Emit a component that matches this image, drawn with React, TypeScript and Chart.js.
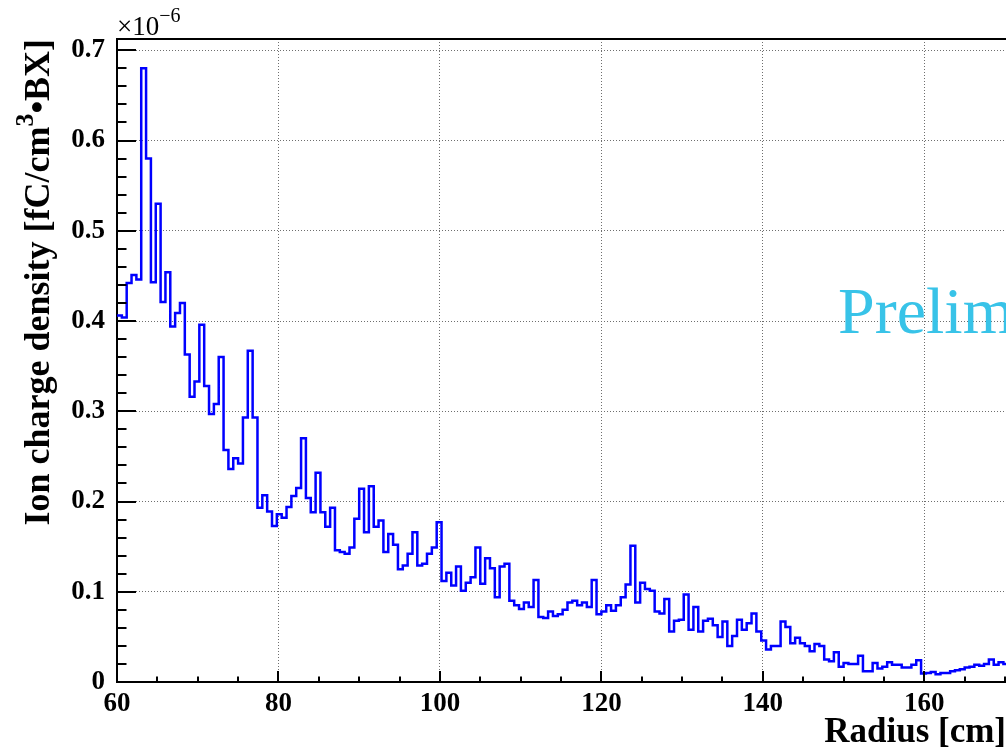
import React, { useEffect, useRef } from 'react';
import { Chart, registerables } from 'chart.js';

Chart.register(...registerables);

// Histogram: ion charge density vs radius, bins of 0.6 cm starting at 60 cm (values ×10^-6)
const BIN_START = 60;
const BIN_WIDTH = 0.6;
const densityValues = [
  0.406, 0.404, 0.442, 0.451, 0.446, 0.680, 0.580, 0.443, 0.530, 0.421,
  0.454, 0.394, 0.409, 0.420, 0.363, 0.316, 0.333, 0.396, 0.328, 0.297,
  0.308, 0.360, 0.257, 0.236, 0.248, 0.242, 0.293, 0.367, 0.293, 0.193,
  0.207, 0.189, 0.173, 0.186, 0.182, 0.194, 0.206, 0.215, 0.270, 0.204,
  0.188, 0.232, 0.188, 0.172, 0.193, 0.146, 0.144, 0.142, 0.149, 0.181,
  0.214, 0.166, 0.217, 0.172, 0.179, 0.144, 0.164, 0.152, 0.125, 0.129,
  0.142, 0.166, 0.129, 0.131, 0.142, 0.149, 0.177, 0.112, 0.121, 0.107,
  0.128, 0.101, 0.110, 0.116, 0.149, 0.109, 0.137, 0.126, 0.094, 0.128,
  0.131, 0.090, 0.085, 0.081, 0.088, 0.083, 0.113, 0.072, 0.071, 0.078,
  0.073, 0.075, 0.080, 0.088, 0.090, 0.085, 0.088, 0.083, 0.113, 0.075,
  0.078, 0.085, 0.079, 0.085, 0.094, 0.108, 0.151, 0.088, 0.110, 0.103,
  0.101, 0.078, 0.076, 0.092, 0.056, 0.068, 0.069, 0.097, 0.058, 0.083,
  0.056, 0.068, 0.070, 0.063, 0.050, 0.067, 0.040, 0.051, 0.069, 0.058,
  0.065, 0.076, 0.056, 0.046, 0.036, 0.040, 0.040, 0.067, 0.061, 0.043,
  0.049, 0.043, 0.040, 0.034, 0.042, 0.040, 0.025, 0.023, 0.033, 0.017,
  0.021, 0.020, 0.020, 0.029, 0.012, 0.012, 0.021, 0.015, 0.017, 0.022,
  0.019, 0.019, 0.016, 0.016, 0.019, 0.024, 0.0095, 0.010, 0.011, 0.0085,
  0.010, 0.010, 0.012, 0.013, 0.014, 0.016, 0.017, 0.019, 0.018, 0.020,
  0.025, 0.019, 0.022, 0.020,
];

const xMajorTicks = [60, 80, 100, 120, 140, 160];
const xMinorTicks = [65, 70, 75, 85, 90, 95, 105, 110, 115, 125, 130, 135, 145, 150, 155, 165, 170];
const yMajorTicks = [0, 0.1, 0.2, 0.3, 0.4, 0.5, 0.6, 0.7];
const yTickLabels = ['0', '0.1', '0.2', '0.3', '0.4', '0.5', '0.6', '0.7'];
const yMinorTicks = [
  0.02, 0.04, 0.06, 0.08, 0.12, 0.14, 0.16, 0.18, 0.22, 0.24, 0.26, 0.28,
  0.32, 0.34, 0.36, 0.38, 0.42, 0.44, 0.46, 0.48, 0.52, 0.54, 0.56, 0.58,
  0.62, 0.64, 0.66, 0.68,
];

const X_MIN = 60;
const X_MAX = 170.12;
const Y_MIN = 0;
const Y_MAX = 0.7125;

const X_TITLE = 'Radius [cm]';
// y title pieces: [text, isSuperscript]
const Y_TITLE_PARTS: [string, boolean][] = [
  ['Ion charge density [fC/cm', false],
  ['3', true],
  ['•BX]', false],
];
const WATERMARK = 'Preliminary';

const SERIF = "'Liberation Serif', 'Times New Roman', serif";
const X_TITLE_SIZE = 35;
const Y_TITLE_SIZE = 36;

const framePlugin = {
  id: 'rootFrame',
  afterDraw(chart: any) {
    const { ctx, chartArea: a, scales } = chart;
    const x = scales.x;
    const y = scales.y;
    ctx.save();
    ctx.strokeStyle = '#000';
    ctx.lineWidth = 2;
    ctx.setLineDash([]);
    ctx.beginPath();
    // top frame
    ctx.moveTo(a.left - 1, a.top);
    ctx.lineTo(a.right, a.top);
    // y ticks (inward)
    yMajorTicks.forEach((v) => {
      const p = Math.round(y.getPixelForValue(v));
      ctx.moveTo(a.left, p);
      ctx.lineTo(a.left + 19, p);
    });
    yMinorTicks.forEach((v) => {
      const p = Math.round(y.getPixelForValue(v));
      ctx.moveTo(a.left, p);
      ctx.lineTo(a.left + 9.5, p);
    });
    // x ticks (inward)
    xMajorTicks.forEach((v) => {
      const p = Math.round(x.getPixelForValue(v));
      ctx.moveTo(p, a.bottom);
      ctx.lineTo(p, a.bottom - 11);
    });
    xMinorTicks.forEach((v) => {
      const p = Math.round(x.getPixelForValue(v));
      ctx.moveTo(p, a.bottom);
      ctx.lineTo(p, a.bottom - 5.5);
    });
    ctx.stroke();

    // exponent label
    ctx.fillStyle = '#000';
    ctx.textBaseline = 'alphabetic';
    ctx.textAlign = 'left';
    ctx.font = `27px ${SERIF}`;
    ctx.fillText('×10', a.left, 35);
    const w = ctx.measureText('×10').width;
    ctx.font = `20px ${SERIF}`;
    ctx.fillText('−6', a.left + w, 22);

    // y-axis title (rotated, ending at the top of the frame)
    const mainFont = `bold ${Y_TITLE_SIZE}px ${SERIF}`;
    const supSize = Math.round(Y_TITLE_SIZE * 0.72);
    const supFont = `bold ${supSize}px ${SERIF}`;
    let total = 0;
    const widths = Y_TITLE_PARTS.map(([t, sup]) => {
      ctx.font = sup ? supFont : mainFont;
      const ww = ctx.measureText(t).width;
      total += ww;
      return ww;
    });
    ctx.save();
    ctx.translate(36.4, a.top);
    ctx.rotate(-Math.PI / 2);
    const baseline = Y_TITLE_SIZE * 0.3375;
    let cx = -total;
    Y_TITLE_PARTS.forEach(([t, sup], i) => {
      ctx.font = sup ? supFont : mainFont;
      ctx.fillText(t, cx, sup ? baseline - Y_TITLE_SIZE * 0.42 : baseline);
      cx += widths[i];
    });
    ctx.restore();

    // watermark
    ctx.fillStyle = 'rgb(56,195,232)';
    ctx.font = `66px ${SERIF}`;
    ctx.fillText(WATERMARK, 838, 333);
    ctx.restore();
  },
};

export default function App() {
  const canvasRef = useRef<HTMLCanvasElement | null>(null);

  useEffect(() => {
    if (!canvasRef.current) return;
    const points = densityValues.map((v, k) => ({ x: BIN_START + BIN_WIDTH * k, y: v }));
    points.push({
      x: BIN_START + BIN_WIDTH * densityValues.length,
      y: densityValues[densityValues.length - 1],
    });

    const chart = new Chart(canvasRef.current, {
      type: 'line',
      data: {
        datasets: [
          {
            data: points,
            borderColor: '#0000ff',
            borderWidth: 2.5,
            pointRadius: 0,
            stepped: 'before',
            fill: false,
          },
        ],
      },
      options: {
        animation: false,
        responsive: false,
        devicePixelRatio: 1,
        layout: { padding: { top: 39, left: 0, right: 0, bottom: 0 } },
        plugins: {
          legend: { display: false },
          tooltip: { enabled: false },
        },
        scales: {
          x: {
            type: 'linear',
            min: X_MIN,
            max: X_MAX,
            afterBuildTicks: (scale: any) => {
              scale.ticks = xMajorTicks.map((v) => ({ value: v }));
            },
            afterFit: (scale: any) => {
              scale.height = 73;
            },
            ticks: {
              color: '#000',
              padding: 6,
              maxRotation: 0,
              autoSkip: false,
              font: { family: SERIF, size: 27, weight: 'bold' },
              callback: (v: any) => String(v),
            },
            grid: {
              color: '#6e6e6e',
              lineWidth: 1,
              drawTicks: false,
            },
            border: { display: true, color: '#000', width: 2, dash: [1, 2] },
            title: {
              display: true,
              text: X_TITLE,
              align: 'end',
              color: '#000',
              font: { family: SERIF, size: X_TITLE_SIZE, weight: 'bold' },
              padding: { top: 0, bottom: 1 },
            },
          },
          y: {
            type: 'linear',
            min: Y_MIN,
            max: Y_MAX,
            afterBuildTicks: (scale: any) => {
              scale.ticks = yMajorTicks.map((v) => ({ value: v }));
            },
            afterFit: (scale: any) => {
              scale.width = 117;
            },
            ticks: {
              color: '#000',
              padding: 12,
              autoSkip: false,
              font: { family: SERIF, size: 27, weight: 'bold' },
              callback: (v: any) => {
                const i = yMajorTicks.findIndex((t) => Math.abs(t - v) < 1e-9);
                return i >= 0 ? yTickLabels[i] : '';
              },
            },
            grid: {
              color: '#6e6e6e',
              lineWidth: 1,
              drawTicks: false,
            },
            border: { display: true, color: '#000', width: 2, dash: [1, 2] },
            title: { display: false },
          },
        },
      } as any,
      plugins: [framePlugin],
    });

    return () => chart.destroy();
  }, []);

  return (
    <div style={{ position: 'absolute', left: 0, top: 0, width: 1006, height: 755, background: '#fff' }}>
      <canvas ref={canvasRef} width={1006} height={755} style={{ display: 'block', width: 1006, height: 755 }} />
    </div>
  );
}
